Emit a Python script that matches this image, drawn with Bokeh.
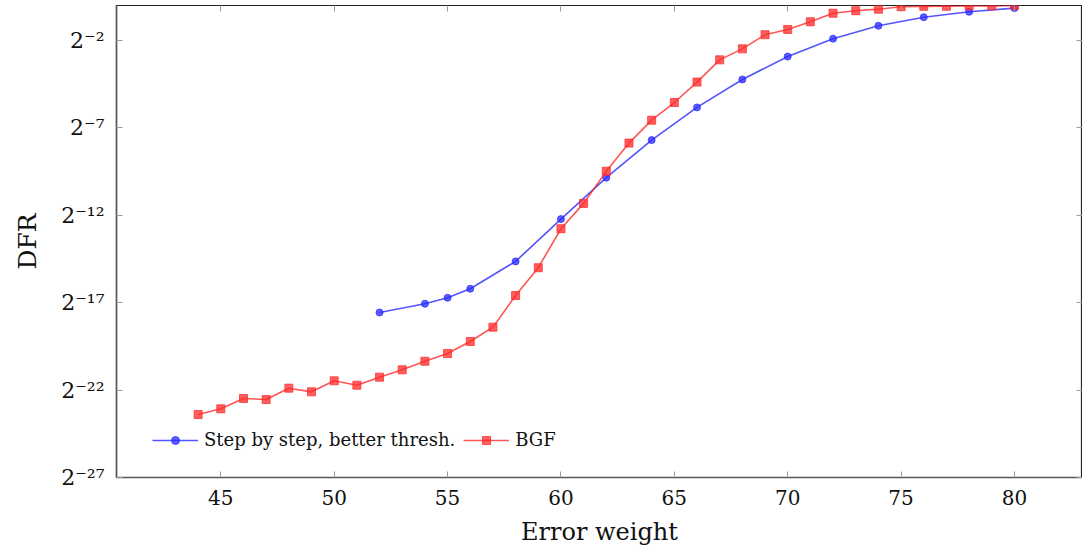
from bokeh.plotting import figure
from bokeh.models import (Range1d, FixedTicker, CustomJSTickFormatter, LinearAxis,
                          LogAxis, Legend, LegendItem)
from bokeh.embed import file_html
from bokeh.resources import INLINE

# ---- data (DFR given as log2 exponents) ----
sbs_weight = [52, 54, 55, 56, 58, 60, 62, 64, 66, 68, 70, 72, 74, 76, 78, 80]
sbs_log2dfr = [-17.56, -17.06, -16.72, -16.2, -14.64, -12.22, -9.85, -7.70,
               -5.83, -4.23, -2.92, -1.90, -1.16, -0.67, -0.36, -0.15]

bgf_weight = list(range(44, 81))
bgf_log2dfr = [-23.40, -23.07, -22.48, -22.54, -21.89, -22.10, -21.47, -21.72,
               -21.26, -20.84, -20.35, -19.91, -19.22, -18.40, -16.59, -15.00,
               -12.77, -11.32, -9.48, -7.87, -6.56, -5.55, -4.38, -3.11, -2.48,
               -1.67, -1.37, -0.93, -0.44, -0.30, -0.21, -0.07, -0.05, -0.04,
               -0.02, -0.02, 0.0]

x_ticks = [45, 50, 55, 60, 65, 70, 75, 80]
y_tick_exponents = [-27, -22, -17, -12, -7, -2]

series_names = ["Step by step, better thresh.", "BGF"]

sbs_dfr = [2.0 ** e for e in sbs_log2dfr]
bgf_dfr = [2.0 ** e for e in bgf_log2dfr]
y_ticks = [2.0 ** e for e in y_tick_exponents]

FONT = "DejaVu Serif"
TICK_COLOR = "#9a9a9a"

p = figure(width=1082, height=548, output_backend="svg", toolbar_location=None,
           y_axis_type="log",
           x_range=Range1d(40.4, 83.0), y_range=Range1d(2.0 ** -27, 2.0 ** 0),
           min_border_left=116, min_border_bottom=71, min_border_top=5,
           min_border_right=0)
p.grid.visible = False
p.outline_line_color = "#222222"
p.outline_line_width = 1.2
p.background_fill_color = "white"

sup = CustomJSTickFormatter(code="""
const m = {'-':'\u207b','0':'\u2070','1':'\u00b9','2':'\u00b2','3':'\u00b3','4':'\u2074',
           '5':'\u2075','6':'\u2076','7':'\u2077','8':'\u2078','9':'\u2079'};
const e = String(Math.round(Math.log2(tick)));
let s = '';
for (const c of e) s += m[c];
return '2' + s;
""")
blank = CustomJSTickFormatter(code="return '';")

xa = p.xaxis[0]
xa.ticker = FixedTicker(ticks=x_ticks)
xa.axis_label = "Error weight"
ya = p.yaxis[0]
ya.ticker = FixedTicker(ticks=y_ticks)
ya.formatter = sup
ya.axis_label = "DFR"

for ax in (xa, ya):
    ax.major_tick_in = 6
    ax.major_tick_out = 0
    ax.minor_tick_line_color = None
    ax.major_tick_line_color = TICK_COLOR
    ax.axis_line_color = "#555555"
    ax.axis_line_width = 1.5
    ax.major_label_text_font = FONT
    ax.major_label_text_color = "#111111"
    ax.axis_label_text_font = FONT
    ax.axis_label_text_font_style = "normal"
    ax.axis_label_text_color = "#111111"
xa.axis_label_text_font_size = "24px"
ya.axis_label_text_font_size = "25px"
xa.major_label_text_font_size = "20px"
ya.major_label_text_font_size = "22px"
xa.major_label_standoff = 12
xa.axis_label_standoff = 10
ya.major_label_standoff = 12
ya.axis_label_standoff = 16

top = LinearAxis(ticker=FixedTicker(ticks=x_ticks), formatter=blank,
                 major_tick_in=6, major_tick_out=0,
                 minor_tick_line_color=None, major_tick_line_color=TICK_COLOR,
                 axis_line_color=None, major_label_standoff=0)
right = LogAxis(ticker=FixedTicker(ticks=y_ticks), formatter=blank,
                major_tick_in=6, major_tick_out=0,
                minor_tick_line_color=None, major_tick_line_color=TICK_COLOR,
                axis_line_color=None, major_label_standoff=0)
p.add_layout(top, "above")
p.add_layout(right, "right")

BLUE = "#2a2aff"
RED = "#ff2a2a"

l1 = p.line(sbs_weight, sbs_dfr, line_color=BLUE, line_width=1.6, line_alpha=0.8)
m1 = p.scatter(sbs_weight, sbs_dfr, marker="circle", size=7, fill_color=BLUE,
               line_color=BLUE, fill_alpha=0.75, line_alpha=0.75)
l2 = p.line(bgf_weight, bgf_dfr, line_color=RED, line_width=1.6, line_alpha=0.8)
m2 = p.scatter(bgf_weight, bgf_dfr, marker="square", size=8, fill_color=RED,
               line_color=RED, fill_alpha=0.75, line_alpha=0.75)

legend = Legend(items=[LegendItem(label=series_names[0], renderers=[l1, m1]),
                       LegendItem(label=series_names[1], renderers=[l2, m2])],
                orientation="horizontal", location=(36, 27),
                border_line_color=None, background_fill_alpha=0,
                label_text_font=FONT, label_text_font_size="18px",
                label_text_color="#111111",
                glyph_width=46, label_standoff=6, spacing=8, padding=4)
p.add_layout(legend, "center")

open("out.html", "w").write(file_html(p, INLINE))
